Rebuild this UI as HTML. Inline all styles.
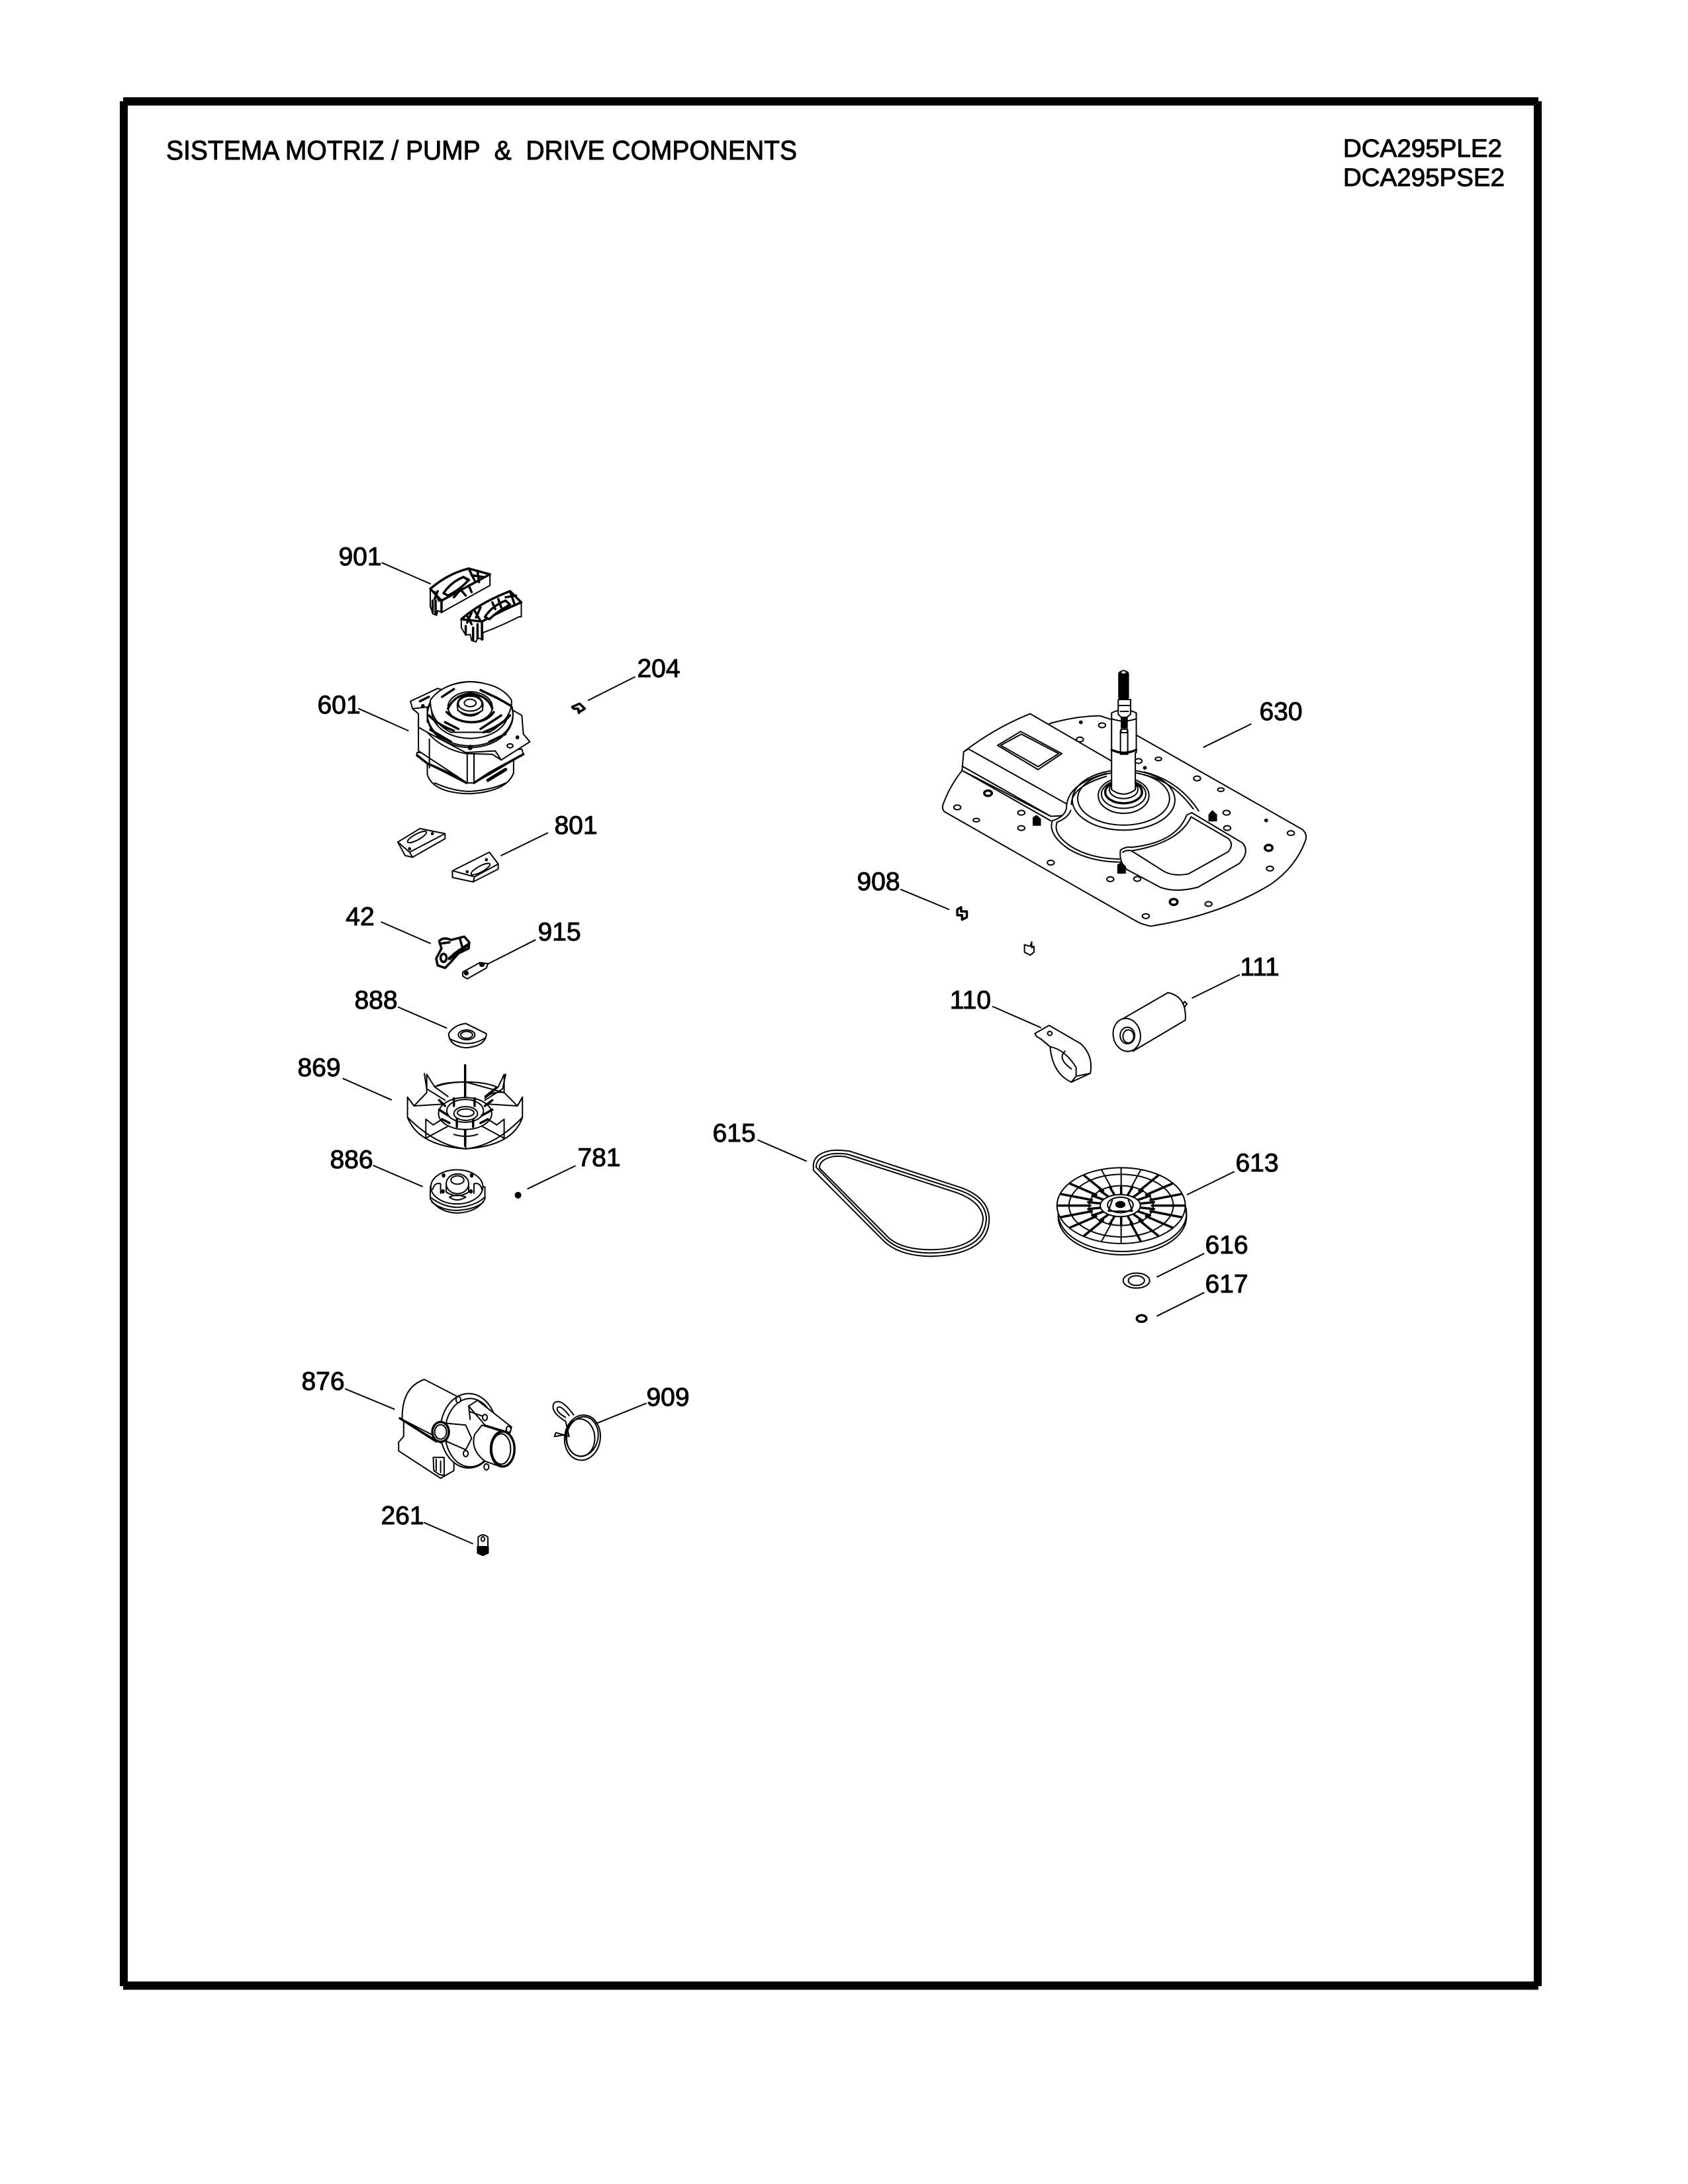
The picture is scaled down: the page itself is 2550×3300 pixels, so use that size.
<!DOCTYPE html>
<html><head><meta charset="utf-8"><title>Pump and drive components</title>
<style>
html,body{margin:0;padding:0;background:#fff}
svg{display:block}
svg *{vector-effect:non-scaling-stroke}
.l{font-family:"Liberation Sans",sans-serif;font-size:39px;fill:#000;text-anchor:middle;stroke:#000;stroke-width:1}
.t{font-family:"Liberation Sans",sans-serif;fill:#000;stroke:#000;stroke-width:1}
.a{fill:none;stroke:#000;stroke-width:2;stroke-linejoin:round;stroke-linecap:round}
.a .w{fill:#fff}
.a .k{fill:#000}
.a .b{stroke-width:3.5}
.a .h{stroke-width:5}
.a .n{stroke-width:1.5}
</style></head><body>
<svg width="2550" height="3300" viewBox="0 0 2550 3300" xmlns="http://www.w3.org/2000/svg">
<rect width="2550" height="3300" fill="#fff"/>
<!-- frame -->
<rect x="186" y="147" width="2138" height="12.5" fill="#000"/>
<rect x="186" y="2994" width="2138" height="12.5" fill="#000"/>
<rect x="181" y="153" width="12" height="2848" fill="#000"/>
<rect x="2317" y="153" width="12" height="2848" fill="#000"/>
<!-- headers -->
<text class="t" x="251" y="241" font-size="41" textLength="953" lengthAdjust="spacingAndGlyphs" xml:space="preserve">SISTEMA MOTRIZ / PUMP  &amp;  DRIVE COMPONENTS</text>
<text class="t" x="2029" y="237" font-size="38" textLength="240" lengthAdjust="spacingAndGlyphs">DCA295PLE2</text>
<text class="t" x="2029" y="281" font-size="38" textLength="244" lengthAdjust="spacingAndGlyphs">DCA295PSE2</text>
<!-- labels -->
<text class="l" x="544" y="854">901</text>
<text class="l" x="995" y="1023">204</text>
<text class="l" x="512" y="1078">601</text>
<text class="l" x="870" y="1260">801</text>
<text class="l" x="544" y="1398">42</text>
<text class="l" x="845" y="1421">915</text>
<text class="l" x="568" y="1524">888</text>
<text class="l" x="482" y="1626">869</text>
<text class="l" x="531" y="1765">886</text>
<text class="l" x="905" y="1762">781</text>
<text class="l" x="488" y="2100">876</text>
<text class="l" x="1009" y="2124">909</text>
<text class="l" x="608" y="2303">261</text>
<text class="l" x="1935" y="1088">630</text>
<text class="l" x="1327" y="1345">908</text>
<text class="l" x="1903" y="1474">111</text>
<text class="l" x="1466" y="1524">110</text>
<text class="l" x="1109" y="1725">615</text>
<text class="l" x="1899" y="1770">613</text>
<text class="l" x="1853" y="1894">616</text>
<text class="l" x="1853" y="1953">617</text>

<!-- upper-left parts (crop space 1) -->
<g class="a" transform="translate(400 780) scale(.4464 .5102)">
  <path d="M397 138L560 200M1252 476L1095 545M318 570L485 635M957 938L800 1005M395 1202L560 1265M915 1255L757 1325"/>
  <!-- 901 A -->
  <path class="w" d="M560 215Q620 170 690 155L762 172V205L600 284L585 280L582 293L570 290L560 268Z"/>
  <path class="b" d="M560 215Q620 170 690 155L762 172L598 250Z"/>
  <path class="w b" d="M605 228Q630 195 672 180L690 188Q665 215 620 235Z"/>
  <path class="b" d="M598 250V284M575 225L590 250M585 222L575 245M690 155L710 190M700 175L740 180M720 165L725 195M672 180L690 190M640 240L665 215M660 215L680 235M690 205L700 225M568 250V285M578 250V290"/>
  <!-- 901 B -->
  <path class="w" d="M665 305Q730 255 830 222L868 255V298L860 298Q800 325 738 345V365L720 360L715 372L700 368L695 350L680 352L665 330Z"/>
  <path class="b" d="M665 305Q730 255 830 222L868 255Q800 280 735 312Z"/>
  <path class="w b" d="M745 298Q770 265 815 250L830 262Q790 280 760 305Z"/>
  <path class="b" d="M735 312V365M685 295L700 320M700 285L685 315M710 280L730 310M730 270L715 300M830 222L845 260M815 240L850 235M770 255L780 275M790 245L800 270M680 325V350M705 330V368M720 320V362"/>
  <!-- 204 -->
  <path class="b" d="M1040 565L1065 555L1083 570L1065 580L1060 570L1045 570ZM1060 570L1063 583"/>
  <!-- 601 motor -->
  <path class="w" d="M550 720V765Q570 820 695 822Q820 815 842 760V720Z"/>
  <path d="M575 790Q640 815 695 815Q770 810 815 790"/>
  <path class="w" d="M515 700V710L550 732L680 790L708 790L760 765L875 705L870 690L680 700Z"/>
  <path class="b" d="M515 708L550 732L660 775L682 790M708 790L760 760L875 705"/>
  <path class="w" d="M520 630V695L685 790H708V700L840 650L520 600Z"/>
  <path d="M557 660V745M685 705V790M708 705V790"/>
  <path class="h" d="M755 782L815 750"/>
  <path class="w" d="M493 548L585 510L840 575L870 590L875 645L897 668L800 722L770 705L680 703Q600 690 550 640L520 625L520 585L500 570Z"/>
  <ellipse class="w" cx="695" cy="585" rx="145" ry="95"/>
  <ellipse cx="695" cy="590" rx="145" ry="95"/>
  <ellipse cx="695" cy="578" rx="130" ry="80"/>
  <ellipse cx="695" cy="575" rx="100" ry="60"/>
  <path class="w" d="M560 545Q600 495 695 490Q800 495 835 545Q838 600 760 640H630Q560 610 560 545Z"/>
  <path class="b" d="M600 535L640 512M730 515L790 540M610 610L655 630M730 630L800 590M780 535L830 560M555 590Q590 620 640 635M740 640Q800 620 830 590"/>
  <path class="b" d="M560 632L630 668M760 668L815 645M525 548L555 535"/>
  <ellipse cx="695" cy="565" rx="75" ry="45"/>
  <path class="b" d="M620 570Q640 530 695 525Q755 530 770 570M615 580Q650 610 700 610Q750 610 775 580"/>
  <ellipse class="w b" cx="695" cy="560" rx="42" ry="30"/>
  <path class="w" d="M653 560V575Q695 600 737 575V560"/>
  <ellipse class="w" cx="695" cy="555" rx="40" ry="22"/>
  <ellipse cx="695" cy="553" rx="20" ry="11"/>
  <circle class="k" cx="695" cy="685" r="6"/><circle class="k" cx="855" cy="655" r="4"/><circle class="k" cx="535" cy="562" r="4"/>
  <ellipse cx="830" cy="680" rx="10" ry="6"/>
  <path d="M550 640L680 700L780 695L800 722M500 570L550 565V610"/>
  <!-- 801 pads -->
  <path class="w" d="M450 965L525 925L610 940V955L500 1010L475 1005Z"/>
  <path d="M450 965L490 995L610 940M490 995L500 1010"/>
  <ellipse cx="515" cy="950" rx="35" ry="9" transform="rotate(-25 515 950)"/>
  <path class="w" d="M635 1050L760 995L790 1030V1045L705 1083L635 1070Z"/>
  <path d="M635 1050L710 1068L790 1030M710 1068L705 1083"/>
  <ellipse cx="730" cy="1045" rx="35" ry="9" transform="rotate(-25 730 1045)"/>
  <circle class="k" cx="567" cy="940" r="3"/><circle class="k" cx="685" cy="1053" r="3"/><circle class="k" cx="750" cy="1017" r="3"/><circle class="k" cx="490" cy="985" r="3"/>
  <!-- 42 -->
  <path class="w b" d="M590 1258Q605 1245 630 1255L675 1245L692 1262L690 1280L655 1295L630 1320L610 1338L585 1330L580 1310L598 1280Z"/>
  <ellipse class="b" cx="605" cy="1308" rx="10" ry="12"/>
  <path class="h" d="M640 1298L690 1268M625 1310L660 1285"/>
  <path class="b" d="M600 1265L625 1262M660 1250L668 1275"/>
  <!-- 915 -->
  <path class="w" d="M670 1350L728 1322L755 1325L750 1338L685 1370L670 1362Z"/>
  <ellipse class="k" cx="682" cy="1353" rx="6" ry="5"/><ellipse class="k" cx="735" cy="1328" rx="7" ry="5"/>
</g>

<!-- lower-left parts (crop space 2) -->
<g class="a" transform="translate(400 1450) scale(.4464 .5741)">
  <path d="M452 125L615 180M265 313L428 369M368 542L533 597M1050 543L890 603M273 1130L438 1183M1290 1168L1118 1222M540 1482L703 1537"/>
  <!-- 888 -->
  <path class="w" d="M622 195Q640 172 680 168L750 195Q748 228 680 232Q625 228 622 195Z"/>
  <path d="M625 208Q690 235 748 205"/>
  <ellipse cx="683" cy="198" rx="28" ry="13"/><ellipse cx="683" cy="198" rx="20" ry="9"/>
  <!-- 869 fan -->
  <path class="w" d="M483 362V415Q520 490 680 498Q840 490 872 415V362L855 385L810 350V302L790 335L745 365Q770 345 810 350L680 322Q600 322 575 335L548 302V350L505 385Z"/>
  <path d="M483 362L505 385L610 380M872 362L855 385L750 380M540 300L548 340L610 370M815 302L805 340L745 370M575 335L620 360M785 335L745 360M575 335Q620 322 680 322Q745 322 785 335"/>
  <path class="b" d="M678 278V385"/>
  <path d="M545 420V470M810 420V470M545 470L640 430M810 470L715 430M680 440V498M483 415Q580 490 680 498Q780 490 872 415M545 420L570 435L600 420M810 420L785 435L755 420M640 460Q680 470 720 460"/>
  <path class="b" d="M678 430V490"/>
  <ellipse class="w" cx="678" cy="405" rx="90" ry="42"/>
  <path class="b" d="M610 385L590 370M745 385L770 370M625 430L600 420M730 430L755 420M650 440V420M705 440V420M640 365V385M710 365V385M620 410L590 395M735 410L770 395"/>
  <ellipse cx="678" cy="398" rx="62" ry="30"/>
  <ellipse class="w" cx="680" cy="405" rx="40" ry="18"/>
  <ellipse cx="680" cy="403" rx="28" ry="10"/>
  <!-- 886 -->
  <path class="w" d="M560 598V630Q590 665 650 667Q720 665 745 630V598Z"/>
  <path d="M560 625Q600 650 650 652Q710 650 745 625M565 638Q600 660 650 660Q710 658 740 638"/>
  <ellipse class="w" cx="650" cy="598" rx="88" ry="45"/>
  <ellipse class="w" cx="652" cy="590" rx="38" ry="26"/>
  <path d="M614 590V612Q652 630 690 612V590"/>
  <ellipse cx="652" cy="580" rx="22" ry="11"/>
  <path d="M568 605Q575 585 595 590V615M735 605Q728 585 708 590V615M625 625Q650 615 680 625Q650 640 625 625"/>
  <circle class="k" cx="605" cy="568" r="4"/><circle class="k" cx="700" cy="568" r="4"/><circle class="k" cx="603" cy="610" r="4"/><circle class="k" cx="698" cy="610" r="4"/>
  <ellipse class="k" cx="857" cy="620" rx="9" ry="7"/>
  <!-- 876 pump -->
  <path class="w" d="M465 1205Q465 1125 540 1105L665 1155V1290L465 1210Z"/>
  <path class="w" d="M457 1207L470 1215V1255L453 1270V1293L595 1365L640 1345V1290L580 1265Z"/>
  <path class="b" d="M457 1207L580 1268"/>
  <path class="w" d="M570 1310H607V1358L590 1355L572 1345Z"/>
  <path d="M580 1315V1345M595 1320V1350"/>
  <ellipse class="w" cx="690" cy="1240" rx="96" ry="98"/>
  <ellipse cx="695" cy="1245" rx="85" ry="90"/>
  <path class="w" d="M690 1175L720 1160L835 1230L830 1245L745 1225Z"/>
  <path d="M695 1190L750 1205M690 1175L695 1210"/>
  <path class="w" d="M610 1220L680 1225L700 1260L680 1290L615 1268Z"/>
  <ellipse class="w b" cx="595" cy="1243" rx="28" ry="26"/>
  <ellipse cx="595" cy="1243" rx="20" ry="19"/>
  <path class="w" d="M735 1225L815 1245L845 1280L800 1335L745 1320Q695 1290 710 1250Z"/>
  <ellipse class="w b" cx="805" cy="1288" rx="40" ry="46"/>
  <ellipse cx="800" cy="1288" rx="32" ry="40"/>
  <circle class="w" cx="680" cy="1300" r="8"/><circle class="w" cx="750" cy="1335" r="8"/><circle class="w" cx="825" cy="1236" r="8"/><circle class="w" cx="745" cy="1205" r="8"/><circle class="w" cx="655" cy="1158" r="8"/>
  <!-- 909 clamp -->
  <path d="M1045 1198Q1000 1150 978 1168Q965 1190 1018 1215L1030 1255L985 1245L980 1255L1020 1250"/>
  <path d="M1030 1200Q1000 1170 990 1180Q985 1190 1018 1205"/>
  <ellipse cx="1075" cy="1258" rx="62" ry="58" transform="rotate(-35 1075 1258)"/>
  <ellipse cx="1075" cy="1255" rx="55" ry="50" transform="rotate(-35 1075 1255)"/>
  <ellipse cx="1068" cy="1258" rx="48" ry="50" transform="rotate(-35 1068 1258)"/>
  <!-- 261 bolt -->
  <path class="w" d="M722 1520Q738 1508 755 1520V1545H722Z"/>
  <path class="k" d="M720 1545H756V1562L738 1568L720 1562Z"/>
  <circle cx="738" cy="1525" r="6"/>
</g>

<!-- right plate parts (crop space 3) -->
<g class="a" transform="translate(1250 970) scale(.4785 .4464)">
  <path d="M1337 278L1188 356M232 838L383 905M1300 1127L1152 1205M522 1234L673 1305"/>
  <!-- plate -->
  <path class="w" d="M705 275Q790 250 860 250L895 262L975 315L1500 635Q1515 650 1510 670Q1480 760 1400 820Q1240 925 1020 962Q990 955 975 945L370 575Q360 565 365 550Q385 490 425 435L430 420Z"/>
  <!-- raised left panel -->
  <path class="w" d="M425 435L430 372Q530 290 640 243L900 405L1000 470L760 580Q750 590 705 590Z"/>
  <path d="M445 362L755 548M425 420L705 590M425 435L705 605M430 372L445 362"/>
  <!-- window -->
  <path class="w" d="M537 350L610 303L740 378L665 432Z"/>
  <path d="M547 350L612 312L730 378L665 422Z"/>
  <!-- dish lobe -->
  <path class="w" d="M755 555Q760 480 880 445L1000 440Q1110 470 1165 570L1300 670L930 745Q830 745 760 700Q695 650 710 605Q755 590 755 555Z" stroke="none"/>
  <path d="M755 555Q760 480 880 445M1000 440Q1110 470 1172 572M770 550Q770 490 880 455M1000 450Q1090 470 1155 565M755 555Q755 590 710 605Q695 650 760 700Q830 745 925 745M768 570Q760 595 725 610Q710 650 770 693Q830 733 922 735"/>
  <ellipse cx="935" cy="535" rx="162" ry="102"/>
  <ellipse cx="935" cy="530" rx="145" ry="90"/>
  <ellipse cx="935" cy="520" rx="80" ry="60"/>
  <ellipse cx="935" cy="515" rx="70" ry="48"/>
  <ellipse class="b" cx="935" cy="508" rx="58" ry="38"/>
  <ellipse cx="935" cy="500" rx="45" ry="30"/>
  <!-- lower right pocket -->
  <path class="w" d="M925 705Q940 692 960 695Q1100 680 1135 585L1150 578L1310 680Q1335 710 1300 750L1170 830Q1100 850 1050 830L945 770Q920 745 925 705Z"/>
  <path d="M932 712Q945 703 960 707L1060 775Q1090 795 1140 785L1265 710Q1285 685 1265 665L1148 592Q1110 680 960 707"/>
  <!-- shaft -->
  <path class="w" d="M897 240Q935 220 975 240V375H972V500Q935 530 897 500V375Z"/>
  <path class="b" d="M897 365Q935 385 975 365"/>
  <path d="M925 300V380H948V300M897 260Q935 275 975 260"/>
  <path class="w" d="M918 195H957V245L945 255H928L918 245Z"/>
  <path d="M918 215H957M925 235H950"/>
  <rect class="k" x="928" y="255" width="18" height="35"/>
  <rect class="w" x="927" y="295" width="20" height="12"/>
  <rect class="k" x="920" y="100" width="30" height="95" rx="8"/>
  <ellipse class="w" cx="935" cy="103" rx="9" ry="6"/>
  <!-- holes -->
  <g class="w">
    <ellipse cx="410" cy="560" rx="11" ry="8"/><ellipse cx="470" cy="603" rx="10" ry="6"/><ellipse cx="612" cy="578" rx="11" ry="8"/><ellipse cx="612" cy="630" rx="11" ry="8"/><ellipse cx="705" cy="747" rx="11" ry="8"/><ellipse cx="893" cy="803" rx="11" ry="8"/><ellipse cx="978" cy="802" rx="11" ry="8"/><ellipse cx="1005" cy="928" rx="11" ry="8"/><ellipse cx="1203" cy="887" rx="11" ry="8"/><ellipse cx="1397" cy="767" rx="11" ry="8"/><ellipse cx="1463" cy="647" rx="11" ry="8"/><ellipse cx="1262" cy="630" rx="11" ry="8"/><ellipse cx="1260" cy="578" rx="11" ry="8"/><ellipse cx="1167" cy="462" rx="11" ry="8"/><ellipse cx="1242" cy="500" rx="10" ry="6"/><ellipse cx="1045" cy="396" rx="10" ry="6"/><ellipse cx="982" cy="403" rx="11" ry="8"/><ellipse cx="867" cy="282" rx="11" ry="8"/><ellipse cx="797" cy="330" rx="11" ry="8"/>
  </g>
  <circle class="k" cx="800" cy="272" r="4"/><circle class="k" cx="1385" cy="604" r="4"/><circle class="k" cx="1002" cy="426" r="4"/>
  <!-- bolts -->
  <g class="b w">
    <ellipse cx="507" cy="512" rx="12" ry="9"/><ellipse cx="1393" cy="697" rx="12" ry="10"/><ellipse cx="1093" cy="880" rx="12" ry="10"/>
  </g>
  <path class="k" d="M650 595L660 588L672 600V620H650ZM917 755L928 748L940 760V782H917ZM1205 585L1215 572L1228 585V605H1205Z"/>
  <!-- 908 clips -->
  <path class="b" d="M410 905L422 898V912H440V932L425 940V925H410Z"/>
  <path d="M622 1025L640 1030L645 1015V1035L652 1030V1050L640 1060L622 1050Z"/>
  <!-- 111 capacitor -->
  <path class="w" d="M925 1280L1075 1187Q1135 1200 1130 1280L965 1385Z"/>
  <ellipse class="w" cx="945" cy="1330" rx="43" ry="56" transform="rotate(-8 945 1330)"/>
  <ellipse cx="947" cy="1332" rx="23" ry="28"/>
  <ellipse cx="950" cy="1335" rx="17" ry="22"/>
  <path d="M1122 1225L1128 1217L1135 1225L1128 1235"/>
  <!-- 110 strap -->
  <path class="w" d="M655 1325L700 1298L800 1360Q840 1400 830 1460L770 1490Q710 1460 703 1370L675 1345L660 1335Z"/>
  <path d="M675 1345L703 1370Q750 1380 785 1440V1470L830 1460M750 1385Q725 1410 770 1445M785 1470L770 1490"/>
  <circle cx="702" cy="1325" r="7"/>
</g>

<!-- belt + pulley (crop space 4) -->
<g class="a" transform="translate(1050 1650) scale(.6061 .3333)">
  <path d="M157 218L277 313M1343 362L1227 465M1268 733L1152 838M1268 910L1152 1015"/>
  <path d="M340 265Q293 280 295 340V355L470 675Q510 745 590 745Q735 735 733 570Q730 480 665 435L385 268Q360 262 340 265Z"/>
  <path d="M342 280Q300 295 302 342L475 665Q512 730 590 730Q725 722 726 570Q722 485 658 445L380 282Q360 277 342 280Z"/>
  <path d="M345 292Q310 305 310 345L482 660Q515 715 590 715Q715 710 718 570Q712 495 650 455L375 293Q360 290 345 292Z"/>
  <!-- 613 -->
  <ellipse class="w" cx="1065" cy="565" rx="160" ry="173"/>
  <ellipse cx="1065" cy="550" rx="160" ry="173"/>
  <ellipse class="w" cx="1062" cy="515" rx="160" ry="172"/>
  <ellipse cx="1062" cy="515" rx="130" ry="142"/>
  <ellipse cx="1062" cy="515" rx="80" ry="90"/>
  <g transform="translate(1062 515) scale(160 172)" class="b">
    <line x1=".48" x2=".98" transform="rotate(0)"/><line x1=".48" x2=".98" transform="rotate(18)"/><line x1=".48" x2=".98" transform="rotate(36)"/><line x1=".48" x2=".98" transform="rotate(54)"/><line x1=".48" x2=".98" transform="rotate(72)"/><line x1=".48" x2=".98" transform="rotate(126)"/><line x1=".48" x2=".98" transform="rotate(144)"/><line x1=".48" x2=".98" transform="rotate(162)"/><line x1=".48" x2=".98" transform="rotate(180)"/><line x1=".48" x2=".98" transform="rotate(198)"/><line x1=".48" x2=".98" transform="rotate(216)"/><line x1=".48" x2=".98" transform="rotate(234)"/><line x1=".48" x2=".98" transform="rotate(306)"/><line x1=".48" x2=".98" transform="rotate(324)"/><line x1=".48" x2=".98" transform="rotate(342)"/>
  </g>
  <g transform="translate(1062 515) scale(160 172)">
    <line x1=".48" x2=".98" transform="rotate(90)"/><line x1=".48" x2=".98" transform="rotate(108)"/><line x1=".48" x2=".98" transform="rotate(252)"/><line x1=".48" x2=".98" transform="rotate(270)"/><line x1=".48" x2=".98" transform="rotate(288)"/>
  </g>
  <g transform="translate(1062 515) scale(160 172)" class="b">
    <line x1=".3" x2=".52" transform="rotate(10)"/><line x1=".3" x2=".52" transform="rotate(30)"/><line x1=".3" x2=".52" transform="rotate(50)"/><line x1=".3" x2=".52" transform="rotate(70)"/><line x1=".3" x2=".52" transform="rotate(90)"/><line x1=".3" x2=".52" transform="rotate(110)"/><line x1=".3" x2=".52" transform="rotate(130)"/><line x1=".3" x2=".52" transform="rotate(150)"/><line x1=".3" x2=".52" transform="rotate(170)"/><line x1=".3" x2=".52" transform="rotate(190)"/><line x1=".3" x2=".52" transform="rotate(210)"/><line x1=".3" x2=".52" transform="rotate(230)"/><line x1=".3" x2=".52" transform="rotate(250)"/><line x1=".3" x2=".52" transform="rotate(270)"/><line x1=".3" x2=".52" transform="rotate(290)"/><line x1=".3" x2=".52" transform="rotate(310)"/><line x1=".3" x2=".52" transform="rotate(330)"/><line x1=".3" x2=".52" transform="rotate(350)"/>
  </g>
  <ellipse class="w" cx="1060" cy="515" rx="50" ry="50"/>
  <ellipse cx="1060" cy="512" rx="32" ry="35"/>
  <path d="M1030 540L1090 540M1040 490L1030 540M1080 490L1090 540"/>
  <ellipse class="k" cx="1060" cy="510" rx="11" ry="13"/>
  <!-- 616, 617 -->
  <ellipse cx="1100" cy="855" rx="33" ry="34"/>
  <ellipse cx="1100" cy="855" rx="20" ry="22"/>
  <ellipse class="b" cx="1113" cy="1027" rx="12" ry="15"/>
</g>
</svg>
</body></html>
